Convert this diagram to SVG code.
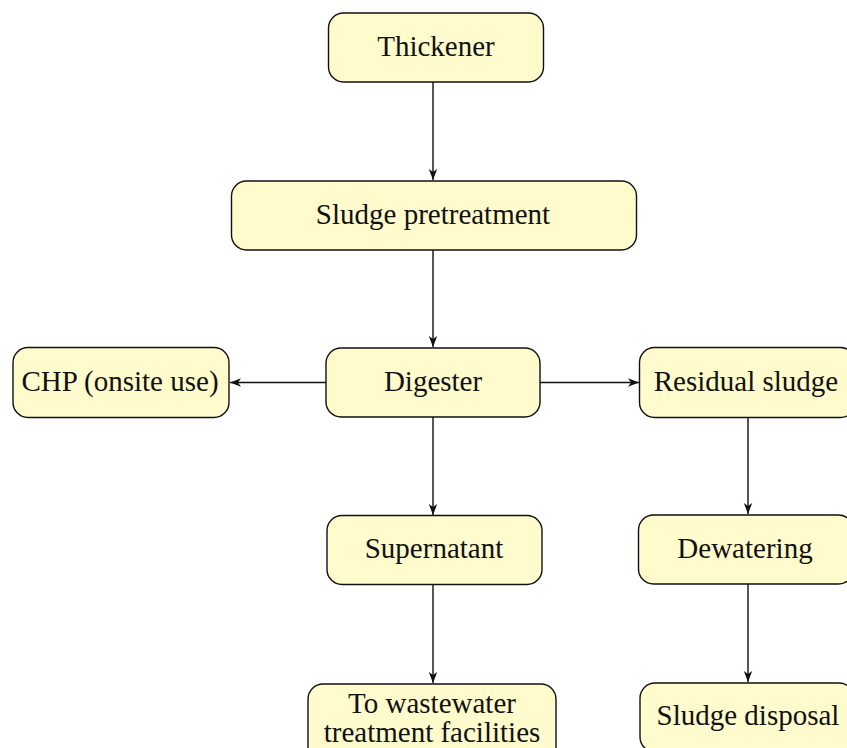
<svg xmlns="http://www.w3.org/2000/svg" width="847" height="748" viewBox="0 0 847 748">
  <style>
    .box { fill: #fffbcc; stroke: #111; stroke-width: 1.4; }
    .lbl { font-family: "Liberation Serif", "Times New Roman", serif; font-size: 29px; fill: #111; text-anchor: middle; }
    .edge { stroke: #111; stroke-width: 1.4; fill: none; marker-end: url(#tip); }
  </style>
  <defs>
    <marker id="tip" viewBox="-12 -5 13 10" markerWidth="13" markerHeight="10" refX="0" refY="0" orient="auto" markerUnits="userSpaceOnUse">
      <path d="M0,0 L-11,-4.2 L-8,0 L-11,4.2 Z" fill="#111"/>
    </marker>
  </defs>

  <g id="connectors">
    <line class="edge" x1="433" y1="82" x2="433" y2="180"/>
    <line class="edge" x1="433" y1="250" x2="433" y2="347"/>
    <line class="edge" x1="326" y1="382.5" x2="230" y2="382.5"/>
    <line class="edge" x1="540" y1="382.5" x2="639" y2="382.5"/>
    <line class="edge" x1="433" y1="417" x2="433" y2="515"/>
    <line class="edge" x1="748" y1="418" x2="748" y2="514"/>
    <line class="edge" x1="433" y1="585" x2="433" y2="683"/>
    <line class="edge" x1="748" y1="584" x2="748" y2="682"/>
  </g>

  <g id="thickener">
    <rect class="box" x="328.5" y="13" width="215" height="69" rx="15"/>
    <text class="lbl" x="436" y="56">Thickener</text>
  </g>
  <g id="pretreatment">
    <rect class="box" x="231.5" y="181" width="405" height="69" rx="15"/>
    <text class="lbl" x="433" y="224">Sludge pretreatment</text>
  </g>
  <g id="digester">
    <rect class="box" x="326" y="348" width="214" height="69" rx="15"/>
    <text class="lbl" x="433" y="391">Digester</text>
  </g>
  <g id="chp">
    <rect class="box" x="13" y="347.5" width="216" height="70" rx="15"/>
    <text class="lbl" x="120" y="391">CHP (onsite use)</text>
  </g>
  <g id="residual">
    <rect class="box" x="639.5" y="347.5" width="216" height="70" rx="15"/>
    <text class="lbl" x="746" y="391">Residual sludge</text>
  </g>
  <g id="supernatant">
    <rect class="box" x="327" y="515.5" width="215" height="69" rx="15"/>
    <text class="lbl" x="434" y="558">Supernatant</text>
  </g>
  <g id="dewatering">
    <rect class="box" x="638.5" y="515" width="215" height="69" rx="15"/>
    <text class="lbl" x="745" y="558">Dewatering</text>
  </g>
  <g id="wastewater">
    <rect class="box" x="308" y="684" width="248" height="84" rx="15"/>
    <text class="lbl" x="432" y="713">To wastewater</text>
    <text class="lbl" x="432" y="742">treatment facilities</text>
  </g>
  <g id="disposal">
    <rect class="box" x="640" y="683" width="214" height="69" rx="15"/>
    <text class="lbl" x="748" y="725">Sludge disposal</text>
  </g>
</svg>
